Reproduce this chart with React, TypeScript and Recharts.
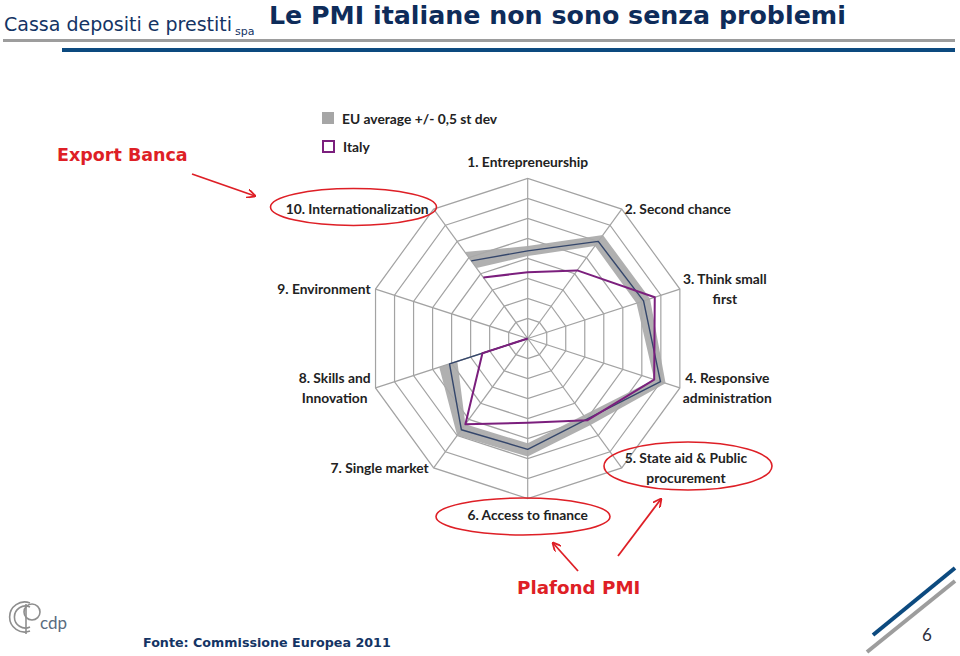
import React from 'react';
import { RadarChart, Radar, PolarGrid, PolarAngleAxis, PolarRadiusAxis, Legend } from 'recharts';

// axes listed from "10." so that the missing axis (9. Environment) falls at the end
const axisLabels = [
  '10. Internationalization',
  '1. Entrepreneurship',
  '2. Second chance',
  '3. Think small\nfirst',
  '4. Responsive\nadministration',
  '5. State aid & Public\nprocurement',
  '6. Access to finance',
  '7. Single market',
  '8. Skills and\nInnovation',
  '9. Environment',
];
const euAverage = [4.8, 4.38, 6.0, 6.09, 6.98, 5.0, 5.54, 5.64, 4.11, null];
const euLow = [4.35, 4.12, 5.72, 5.72, 6.65, 4.75, 5.24, 5.3, 3.7, null];
const euHigh = [5.35, 4.62, 6.4, 6.43, 7.25, 5.35, 5.9, 6.0, 4.65, null];
const italy = [3.77, 3.31, 4.21, 6.68, 6.65, 5.06, 4.21, 5.3, 2.38, null];

const chartData = axisLabels.map((axis, i) => ({
  axis,
  eu: euAverage[i],
  band: euLow[i] == null ? null : [euLow[i], euHigh[i]],
  italy: italy[i],
}));

const CX = 527.7;
const CY = 338.5;
const LABEL_FONT = 'Lato, "Open Sans", sans-serif';
const LABEL_SIZE = 13.8;
const SANS = 'DejaVu Sans, Verdana, sans-serif';
const NAVY = '#143464';
const RED = '#de1f26';

let ctx: CanvasRenderingContext2D | null = null;
const textWidth = (s: string) => {
  if (!ctx) ctx = document.createElement('canvas').getContext('2d');
  if (!ctx) return s.length * 7;
  ctx.font = `700 ${LABEL_SIZE}px Lato`;
  return ctx.measureText(s).width;
};

const AxisTick = (props: any) => {
  const { x, y, payload } = props;
  const lines = String(payload.value).split('\n');
  const dx = x - CX;
  const dy = y - CY;
  const w = Math.max(...lines.map(textWidth));
  let mx = x;
  let my = y;
  if (Math.abs(dx) < 5) {
    my = dy < 0 ? y - 16 : y + 17;
  } else if (dx > 0) {
    mx = x + 3 + w / 2;
  } else {
    mx = x - 5 - w / 2;
  }
  const lh = 20;
  const top = my - ((lines.length - 1) * lh) / 2;
  return (
    <text textAnchor="middle" fontFamily={LABEL_FONT} fontWeight={700} fontSize={LABEL_SIZE} fill="#222">
      {lines.map((l, i) => (
        <tspan key={i} x={mx} y={top + i * lh} dy="0.35em">{l}</tspan>
      ))}
    </text>
  );
};

// open polyline through the valid points (no closing segment across the gap)
const openLine = (props: any) => {
  const pts = (props.points || []).filter((p: any) => Number.isFinite(p.x) && Number.isFinite(p.y));
  const d = pts.map((p: any, i: number) => `${i ? 'L' : 'M'}${p.x},${p.y}`).join('');
  return <path d={d} fill="none" stroke={props.stroke} strokeWidth={props.strokeWidth} strokeLinejoin="round" />;
};

const LegendBox = () => (
  <div style={{ fontFamily: LABEL_FONT, fontWeight: 700, fontSize: LABEL_SIZE, color: '#222' }}>
    <div style={{ display: 'flex', alignItems: 'center', height: 28 }}>
      <span style={{ width: 12, height: 12, background: '#a6a6a6', marginRight: 8 }} />
      EU average +/- 0,5 st dev
    </div>
    <div style={{ display: 'flex', alignItems: 'center', height: 28 }}>
      <span style={{ width: 9, height: 9, border: '2px solid #7b1f7d', marginRight: 8 }} />
      Italy
    </div>
  </div>
);

export default function App() {
  return (
    <div style={{ position: 'absolute', left: 0, top: 0, width: 960, height: 656, background: '#fff', overflow: 'hidden' }}>
      <div style={{ position: 'absolute', left: 0, top: 0 }}>
        <RadarChart
          width={960}
          height={656}
          cx={CX}
          cy={CY}
          outerRadius={160}
          startAngle={126}
          endAngle={-234}
          data={chartData}
          margin={{ top: 0, right: 0, bottom: 0, left: 0 }}
        >
          <PolarGrid gridType="polygon" stroke="#a3a3a3" strokeWidth={1.2} />
          <PolarRadiusAxis domain={[0, 8]} tickCount={9} tick={false} axisLine={false} />
          <PolarAngleAxis
            dataKey="axis"
            tick={(p: any) => <AxisTick {...p} />}
            tickLine={false}
            tickSize={0.001}
            axisLine={false}
          />
          <Radar dataKey="band" fill="#a9a9a9" fillOpacity={0.92} stroke="none" isAnimationActive={false} />
          <Radar dataKey="eu" stroke="#34466b" strokeWidth={1.4} fill="none" shape={openLine} isAnimationActive={false} />
          <Radar dataKey="italy" stroke="#7b1f7d" strokeWidth={2} fill="none" shape={openLine} isAnimationActive={false} />
          <Legend content={() => <LegendBox />} wrapperStyle={{ left: 322, top: 104, width: 260, bottom: 'auto' }} />
        </RadarChart>
      </div>

      <svg width={960} height={656} style={{ position: 'absolute', left: 0, top: 0, pointerEvents: 'none' }}>
        <defs>
          <marker id="head" viewBox="0 0 10 10" refX={9} refY={5} markerWidth={9} markerHeight={9} orient="auto" markerUnits="userSpaceOnUse">
            <path d="M0,0 L10,5 L0,10" fill="none" stroke={RED} strokeWidth={2} />
          </marker>
        </defs>

        {/* header */}
        <text x={4} y={31} fontFamily={SANS} fontSize={19} fill={NAVY}>Cassa depositi e prestiti</text>
        <text x={235} y={35} fontFamily={SANS} fontSize={11} fill={NAVY}>spa</text>
        <text x={269} y={24} fontFamily={SANS} fontWeight={700} fontSize={25.3} fill="#0e2c5a">
          Le PMI italiane non sono senza problemi
        </text>
        <rect x={3} y={39} width={952} height={3} fill="#9d9d9d" />
        <rect x={62} y={48} width={893} height={4} fill="#0c4a7f" />

        {/* annotations */}
        <text x={57} y={161} fontFamily={SANS} fontWeight={700} fontSize={17.5} fill={RED}>Export Banca</text>
        <line x1={192} y1={174} x2={255} y2={196} stroke={RED} strokeWidth={1.8} markerEnd="url(#head)" />
        <ellipse cx={353.5} cy={207} rx={83} ry={18.5} fill="none" stroke={RED} strokeWidth={1.6} />
        <ellipse cx={523} cy={516.5} rx={87} ry={18.5} fill="none" stroke={RED} strokeWidth={1.6} />
        <ellipse cx={688} cy={466} rx={84} ry={24} fill="none" stroke={RED} strokeWidth={1.6} />
        <text x={517} y={594} fontFamily={SANS} fontWeight={700} fontSize={18.3} fill={RED}>Plafond PMI</text>
        <line x1={578} y1={571} x2={553} y2={543} stroke={RED} strokeWidth={1.8} markerEnd="url(#head)" />
        <line x1={618} y1={556} x2={661} y2={499} stroke={RED} strokeWidth={1.8} markerEnd="url(#head)" />

        {/* footer */}
        <g fill="none" stroke="#8e8e8e" strokeWidth={1.6}>
          <path d="M30,603 A15,15 0 1 0 30,631" />
          <path d="M30,607 A11,11 0 1 0 30,627" />
          <circle cx={32} cy={612} r={8} />
          <line x1={26} y1={604} x2={26} y2={634} />
        </g>
        <text x={40} y={629} fontFamily="Lato, sans-serif" fontSize={17} fill="#5a6c80">cdp</text>
        <text x={143} y={647} fontFamily={SANS} fontWeight={700} fontSize={12.7} fill={NAVY}>
          Fonte: Commissione Europea 2011
        </text>
        <line x1={873} y1={635} x2={955} y2={568} stroke="#0c4a7f" strokeWidth={4} />
        <line x1={867} y1={652} x2={955} y2={581} stroke="#9d9d9d" strokeWidth={4} />
        <text x={922} y={641} fontFamily="Lato, sans-serif" fontSize={17} fill="#2c2c3c">6</text>
      </svg>
    </div>
  );
}
